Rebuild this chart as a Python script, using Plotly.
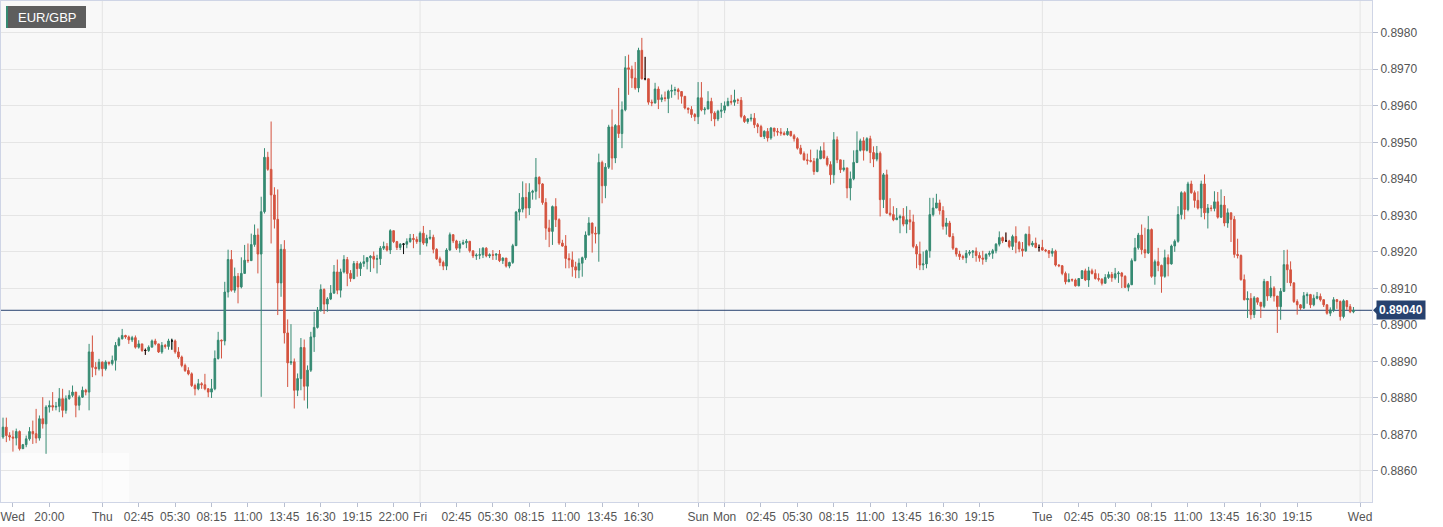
import plotly.graph_objects as go

# EUR/GBP 15 minute candles, Wed 16:15 -> Tue 23:30 (weekend gap removed)
first_open = 0.88629

wed_close = [
    0.88693, 0.88720, 0.88697, 0.88693, 0.88690, 0.88708, 0.88661, 0.88672, 0.88688, 0.88708,
    0.88702, 0.88690, 0.88743, 0.88729, 0.88775, 0.88779, 0.88775, 0.88777, 0.88798, 0.88766,
    0.88798, 0.88807, 0.88816, 0.88780, 0.88802, 0.88821, 0.88816, 0.88926, 0.88884, 0.88880,
    0.88898,
]
wed_high = [
    0.88702, 0.88746, 0.88746, 0.88706, 0.88711, 0.88716, 0.88711, 0.88674, 0.88697, 0.88720,
    0.88738, 0.88770, 0.88752, 0.88802, 0.88780, 0.88793, 0.88816, 0.88789, 0.88827, 0.88825,
    0.88807, 0.88821, 0.88834, 0.88816, 0.88807, 0.88831, 0.88825, 0.88948, 0.88971, 0.88898,
    0.88907,
]
wed_low = [
    0.88629, 0.88688, 0.88679, 0.88683, 0.88653, 0.88670, 0.88656, 0.88661, 0.88665, 0.88683,
    0.88674, 0.88676, 0.88683, 0.88716, 0.88647, 0.88760, 0.88765, 0.88766, 0.88761, 0.88747,
    0.88757, 0.88795, 0.88802, 0.88747, 0.88766, 0.88800, 0.88807, 0.88766, 0.88857, 0.88862,
    0.88875,
]

thu_close = [
    0.88880, 0.88898, 0.88894, 0.88903, 0.88944, 0.88962, 0.88971, 0.88967, 0.88959, 0.88965,
    0.88939, 0.88948, 0.88930, 0.88930, 0.88939, 0.88956, 0.88948, 0.88926, 0.88944, 0.88941,
    0.88956, 0.88956, 0.88926, 0.88912, 0.88889, 0.88875, 0.88866, 0.88834, 0.88825, 0.88839,
    0.88836, 0.88825, 0.88816, 0.88825, 0.88908, 0.88958, 0.88956, 0.89090, 0.89179, 0.89095,
    0.89133, 0.89104, 0.89141, 0.89177, 0.89176, 0.89220, 0.89246, 0.89194, 0.89310, 0.89459,
    0.89426, 0.89356, 0.89289, 0.89115, 0.89207, 0.88978, 0.88896, 0.88899, 0.88821, 0.88853,
    0.88938, 0.88832, 0.88876, 0.88967, 0.88993, 0.89040, 0.89097, 0.89057, 0.89071, 0.89087,
    0.89145, 0.89095, 0.89145, 0.89179, 0.89141, 0.89127, 0.89168, 0.89154, 0.89168, 0.89173,
    0.89184, 0.89188, 0.89180, 0.89181, 0.89210, 0.89215, 0.89205, 0.89258, 0.89228, 0.89212,
    0.89221, 0.89221, 0.89228, 0.89237, 0.89234, 0.89228,
]
thu_high = [
    0.88900, 0.88903, 0.88898, 0.88916, 0.88953, 0.88967, 0.88989, 0.88973, 0.88971, 0.88970,
    0.88971, 0.88958, 0.88946, 0.88935, 0.88944, 0.88960, 0.88962, 0.88948, 0.88953, 0.88948,
    0.88962, 0.88962, 0.88960, 0.88939, 0.88916, 0.88894, 0.88884, 0.88870, 0.88839, 0.88852,
    0.88843, 0.88866, 0.88827, 0.88852, 0.88930, 0.88981, 0.88960, 0.89118, 0.89206, 0.89205,
    0.89157, 0.89142, 0.89185, 0.89219, 0.89223, 0.89250, 0.89275, 0.89264, 0.89351, 0.89484,
    0.89474, 0.89557, 0.89377, 0.89371, 0.89221, 0.89232, 0.89015, 0.89002, 0.88908, 0.88867,
    0.88964, 0.88960, 0.88889, 0.88981, 0.89036, 0.89049, 0.89111, 0.89100, 0.89076, 0.89109,
    0.89164, 0.89179, 0.89154, 0.89191, 0.89186, 0.89150, 0.89175, 0.89175, 0.89173, 0.89191,
    0.89186, 0.89191, 0.89201, 0.89192, 0.89216, 0.89228, 0.89224, 0.89262, 0.89256, 0.89230,
    0.89224, 0.89224, 0.89237, 0.89249, 0.89249, 0.89242,
]
thu_low = [
    0.88859, 0.88875, 0.88889, 0.88889, 0.88875, 0.88941, 0.88960, 0.88962, 0.88948, 0.88953,
    0.88935, 0.88935, 0.88926, 0.88918, 0.88926, 0.88944, 0.88944, 0.88923, 0.88921, 0.88935,
    0.88932, 0.88932, 0.88921, 0.88907, 0.88884, 0.88871, 0.88862, 0.88830, 0.88807, 0.88821,
    0.88825, 0.88821, 0.88802, 0.88800, 0.88821, 0.88905, 0.88908, 0.88944, 0.89075, 0.89091,
    0.89088, 0.89059, 0.89100, 0.89141, 0.89170, 0.89176, 0.89214, 0.89141, 0.88803, 0.89305,
    0.89422, 0.89223, 0.89264, 0.89027, 0.89077, 0.88949, 0.88830, 0.88890, 0.88771, 0.88805,
    0.88821, 0.88793, 0.88771, 0.88871, 0.88926, 0.88990, 0.89036, 0.89030, 0.89036, 0.89068,
    0.89086, 0.89084, 0.89075, 0.89141, 0.89106, 0.89118, 0.89125, 0.89132, 0.89134, 0.89159,
    0.89152, 0.89145, 0.89155, 0.89141, 0.89164, 0.89205, 0.89201, 0.89194, 0.89224, 0.89205,
    0.89205, 0.89194, 0.89210, 0.89225, 0.89210, 0.89222,
]

fri_close = [
    0.89251, 0.89224, 0.89237, 0.89240, 0.89207, 0.89181, 0.89171, 0.89161, 0.89205, 0.89247,
    0.89230, 0.89210, 0.89222, 0.89225, 0.89229, 0.89203, 0.89189, 0.89191, 0.89192, 0.89210,
    0.89189, 0.89192, 0.89191, 0.89194, 0.89176, 0.89183, 0.89161, 0.89171, 0.89217, 0.89309,
    0.89317, 0.89349, 0.89320, 0.89363, 0.89366, 0.89404, 0.89386, 0.89335, 0.89265, 0.89256,
    0.89324, 0.89288, 0.89224, 0.89216, 0.89182, 0.89178, 0.89159, 0.89150, 0.89169, 0.89184,
    0.89246, 0.89279, 0.89251, 0.89249, 0.89445, 0.89381, 0.89432, 0.89542, 0.89457, 0.89546,
    0.89524, 0.89589, 0.89704, 0.89700, 0.89676, 0.89649, 0.89752, 0.89674, 0.89674, 0.89610,
    0.89608, 0.89646, 0.89617, 0.89622, 0.89620, 0.89640, 0.89642, 0.89644, 0.89639, 0.89626,
    0.89594, 0.89590, 0.89576, 0.89570,
]
fri_high = [
    0.89256, 0.89271, 0.89247, 0.89260, 0.89247, 0.89210, 0.89187, 0.89176, 0.89210, 0.89253,
    0.89248, 0.89233, 0.89230, 0.89233, 0.89235, 0.89226, 0.89201, 0.89196, 0.89210, 0.89213,
    0.89213, 0.89196, 0.89205, 0.89196, 0.89205, 0.89185, 0.89178, 0.89173, 0.89222, 0.89312,
    0.89361, 0.89393, 0.89388, 0.89388, 0.89370, 0.89457, 0.89407, 0.89388, 0.89347, 0.89288,
    0.89327, 0.89347, 0.89292, 0.89233, 0.89246, 0.89196, 0.89201, 0.89173, 0.89182, 0.89187,
    0.89256, 0.89295, 0.89280, 0.89269, 0.89469, 0.89450, 0.89443, 0.89548, 0.89590, 0.89550,
    0.89649, 0.89612, 0.89736, 0.89740, 0.89710, 0.89720, 0.89759, 0.89786, 0.89734, 0.89673,
    0.89617, 0.89663, 0.89653, 0.89631, 0.89639, 0.89644, 0.89658, 0.89652, 0.89649, 0.89640,
    0.89626, 0.89594, 0.89599, 0.89580,
]
fri_low = [
    0.89192, 0.89219, 0.89215, 0.89233, 0.89196, 0.89178, 0.89161, 0.89150, 0.89150, 0.89203,
    0.89224, 0.89205, 0.89198, 0.89219, 0.89210, 0.89198, 0.89183, 0.89178, 0.89180, 0.89183,
    0.89185, 0.89183, 0.89178, 0.89178, 0.89172, 0.89167, 0.89157, 0.89155, 0.89167, 0.89216,
    0.89286, 0.89308, 0.89292, 0.89301, 0.89343, 0.89343, 0.89347, 0.89329, 0.89233, 0.89213,
    0.89219, 0.89268, 0.89219, 0.89214, 0.89155, 0.89155, 0.89132, 0.89128, 0.89128, 0.89132,
    0.89178, 0.89246, 0.89198, 0.89223, 0.89173, 0.89333, 0.89347, 0.89427, 0.89425, 0.89443,
    0.89512, 0.89484, 0.89585, 0.89630, 0.89649, 0.89644, 0.89637, 0.89672, 0.89670, 0.89603,
    0.89599, 0.89606, 0.89591, 0.89610, 0.89612, 0.89580, 0.89622, 0.89629, 0.89617, 0.89606,
    0.89590, 0.89579, 0.89567, 0.89558,
]

sun_close = [0.89622, 0.89589, 0.89591, 0.89612, 0.89580, 0.89564, 0.89585, 0.89588]
sun_high = [0.89665, 0.89665, 0.89597, 0.89640, 0.89622, 0.89585, 0.89589, 0.89608]
sun_low = [0.89550, 0.89585, 0.89576, 0.89591, 0.89558, 0.89544, 0.89558, 0.89567]

mon_close = [
    0.89600, 0.89612, 0.89610, 0.89616, 0.89615, 0.89571, 0.89557, 0.89564, 0.89566, 0.89548,
    0.89543, 0.89516, 0.89530, 0.89512, 0.89539, 0.89530, 0.89528, 0.89525, 0.89521, 0.89530,
    0.89518, 0.89510, 0.89484, 0.89469, 0.89452, 0.89450, 0.89448, 0.89420, 0.89455, 0.89477,
    0.89457, 0.89439, 0.89411, 0.89507, 0.89452, 0.89425, 0.89430, 0.89375, 0.89400, 0.89445,
    0.89478, 0.89504, 0.89478, 0.89510, 0.89472, 0.89454, 0.89470, 0.89343, 0.89411, 0.89306,
    0.89302, 0.89288, 0.89293, 0.89297, 0.89276, 0.89288, 0.89282, 0.89215, 0.89194, 0.89164,
    0.89167, 0.89203, 0.89302, 0.89320, 0.89334, 0.89313, 0.89270, 0.89279, 0.89242, 0.89210,
    0.89194, 0.89187, 0.89184, 0.89196, 0.89199, 0.89202, 0.89190, 0.89183, 0.89180, 0.89193,
    0.89196, 0.89203, 0.89221, 0.89239, 0.89230, 0.89230, 0.89215, 0.89242, 0.89226, 0.89208,
    0.89203, 0.89248, 0.89219, 0.89224, 0.89212, 0.89212,
]
mon_high = [
    0.89612, 0.89622, 0.89630, 0.89644, 0.89620, 0.89624, 0.89575, 0.89566, 0.89578, 0.89580,
    0.89553, 0.89548, 0.89533, 0.89539, 0.89542, 0.89534, 0.89539, 0.89539, 0.89530, 0.89539,
    0.89530, 0.89523, 0.89514, 0.89493, 0.89475, 0.89469, 0.89480, 0.89457, 0.89480, 0.89489,
    0.89500, 0.89463, 0.89448, 0.89528, 0.89516, 0.89452, 0.89452, 0.89430, 0.89420, 0.89478,
    0.89530, 0.89510, 0.89514, 0.89514, 0.89518, 0.89489, 0.89490, 0.89475, 0.89416, 0.89425,
    0.89347, 0.89325, 0.89320, 0.89302, 0.89320, 0.89325, 0.89315, 0.89302, 0.89221, 0.89228,
    0.89201, 0.89206, 0.89348, 0.89348, 0.89359, 0.89343, 0.89325, 0.89293, 0.89285, 0.89251,
    0.89210, 0.89203, 0.89192, 0.89205, 0.89205, 0.89205, 0.89212, 0.89199, 0.89203, 0.89196,
    0.89203, 0.89208, 0.89224, 0.89256, 0.89242, 0.89253, 0.89233, 0.89247, 0.89270, 0.89230,
    0.89227, 0.89250, 0.89270, 0.89230, 0.89239, 0.89220,
]
mon_low = [
    0.89580, 0.89603, 0.89603, 0.89600, 0.89605, 0.89566, 0.89553, 0.89551, 0.89557, 0.89539,
    0.89525, 0.89514, 0.89509, 0.89502, 0.89507, 0.89516, 0.89518, 0.89518, 0.89519, 0.89518,
    0.89516, 0.89502, 0.89480, 0.89466, 0.89450, 0.89439, 0.89445, 0.89411, 0.89418, 0.89454,
    0.89454, 0.89434, 0.89384, 0.89388, 0.89443, 0.89416, 0.89420, 0.89347, 0.89341, 0.89396,
    0.89443, 0.89475, 0.89450, 0.89475, 0.89443, 0.89432, 0.89448, 0.89297, 0.89320, 0.89305,
    0.89297, 0.89284, 0.89288, 0.89251, 0.89270, 0.89251, 0.89260, 0.89210, 0.89155, 0.89150,
    0.89150, 0.89155, 0.89184, 0.89297, 0.89322, 0.89302, 0.89261, 0.89247, 0.89240, 0.89205,
    0.89187, 0.89178, 0.89178, 0.89169, 0.89190, 0.89183, 0.89173, 0.89173, 0.89165, 0.89172,
    0.89187, 0.89181, 0.89196, 0.89215, 0.89224, 0.89229, 0.89210, 0.89205, 0.89196, 0.89199,
    0.89187, 0.89200, 0.89215, 0.89214, 0.89210, 0.89201,
]

tue_close = [
    0.89205, 0.89203, 0.89196, 0.89202, 0.89164, 0.89162, 0.89141, 0.89118, 0.89124, 0.89123,
    0.89107, 0.89127, 0.89148, 0.89123, 0.89148, 0.89141, 0.89127, 0.89125, 0.89114, 0.89130,
    0.89138, 0.89129, 0.89140, 0.89142, 0.89133, 0.89103, 0.89110, 0.89176, 0.89211, 0.89246,
    0.89206, 0.89197, 0.89261, 0.89133, 0.89173, 0.89163, 0.89133, 0.89184, 0.89167, 0.89216,
    0.89229, 0.89302, 0.89362, 0.89316, 0.89386, 0.89362, 0.89341, 0.89320, 0.89386, 0.89307,
    0.89320, 0.89319, 0.89337, 0.89295, 0.89328, 0.89279, 0.89307, 0.89289, 0.89193, 0.89190,
    0.89124, 0.89069, 0.89072, 0.89028, 0.89074, 0.89062, 0.89051, 0.89119, 0.89079, 0.89101,
    0.89079, 0.89050, 0.89092, 0.89165, 0.89151, 0.89115, 0.89064, 0.89055, 0.89046, 0.89080,
    0.89083, 0.89055, 0.89073, 0.89078, 0.89069, 0.89055, 0.89032, 0.89041, 0.89069, 0.89064,
    0.89023, 0.89066, 0.89050, 0.89036, 0.89040,
]
tue_high = [
    0.89233, 0.89208, 0.89205, 0.89210, 0.89206, 0.89166, 0.89164, 0.89146, 0.89141, 0.89127,
    0.89127, 0.89128, 0.89150, 0.89154, 0.89159, 0.89154, 0.89152, 0.89141, 0.89128, 0.89139,
    0.89146, 0.89145, 0.89156, 0.89147, 0.89145, 0.89136, 0.89115, 0.89182, 0.89238, 0.89252,
    0.89275, 0.89266, 0.89298, 0.89264, 0.89179, 0.89211, 0.89165, 0.89206, 0.89193, 0.89220,
    0.89234, 0.89325, 0.89366, 0.89366, 0.89392, 0.89395, 0.89368, 0.89366, 0.89395, 0.89412,
    0.89331, 0.89328, 0.89366, 0.89364, 0.89371, 0.89353, 0.89319, 0.89304, 0.89298, 0.89236,
    0.89193, 0.89138, 0.89092, 0.89087, 0.89079, 0.89075, 0.89062, 0.89126, 0.89119, 0.89134,
    0.89106, 0.89074, 0.89101, 0.89205, 0.89206, 0.89174, 0.89117, 0.89070, 0.89057, 0.89090,
    0.89089, 0.89085, 0.89083, 0.89090, 0.89086, 0.89070, 0.89056, 0.89048, 0.89076, 0.89071,
    0.89067, 0.89070, 0.89068, 0.89057, 0.89049,
]
tue_low = [
    0.89203, 0.89199, 0.89183, 0.89187, 0.89160, 0.89158, 0.89136, 0.89111, 0.89118, 0.89118,
    0.89105, 0.89106, 0.89126, 0.89120, 0.89104, 0.89138, 0.89124, 0.89119, 0.89108, 0.89114,
    0.89126, 0.89118, 0.89124, 0.89115, 0.89101, 0.89101, 0.89092, 0.89109, 0.89174, 0.89206,
    0.89193, 0.89183, 0.89194, 0.89129, 0.89110, 0.89147, 0.89088, 0.89129, 0.89133, 0.89165,
    0.89200, 0.89225, 0.89289, 0.89289, 0.89311, 0.89359, 0.89321, 0.89316, 0.89295, 0.89289,
    0.89264, 0.89311, 0.89311, 0.89291, 0.89293, 0.89270, 0.89266, 0.89227, 0.89184, 0.89182,
    0.89121, 0.89067, 0.89019, 0.89015, 0.89019, 0.89055, 0.89019, 0.89046, 0.89066, 0.89074,
    0.89064, 0.88978, 0.89014, 0.89090, 0.89115, 0.89106, 0.89060, 0.89028, 0.89041, 0.89044,
    0.89058, 0.89046, 0.89051, 0.89070, 0.89064, 0.89049, 0.89028, 0.89024, 0.89035, 0.89044,
    0.89012, 0.89018, 0.89041, 0.89032, 0.89032,
]

# axis labels, placed at candle slots
tick_index = [3.9, 15, 31, 42, 53, 64, 75, 86, 97, 108, 119,
              127, 138, 149, 160, 171, 182, 193,
              211, 219, 230, 241, 252, 263, 274, 285, 296,
              315, 326, 337, 348, 359, 370, 381, 392, 411]
tick_text = ["Wed", "20:00", "Thu", "02:45", "05:30", "08:15", "11:00", "13:45", "16:30", "19:15", "22:00",
             "Fri", "02:45", "05:30", "08:15", "11:00", "13:45", "16:30",
             "Sun", "Mon", "02:45", "05:30", "08:15", "11:00", "13:45", "16:30", "19:15",
             "Tue", "02:45", "05:30", "08:15", "11:00", "13:45", "16:30", "19:15", "Wed"]

symbol = "EUR/GBP"

GREEN = "#358a72"
RED = "#d4533f"
NAVY = "#27426f"
FONT = "Liberation Sans, Arial, sans-serif"

close = wed_close + thu_close + fri_close + sun_close + mon_close + tue_close
high = wed_high + thu_high + fri_high + sun_high + mon_high + tue_high
low = wed_low + thu_low + fri_low + sun_low + mon_low + tue_low
opens = [first_open] + close[:-1]
high = [max(h, o, c) for h, o, c in zip(high, opens, close)]
low = [min(l, o, c) for l, o, c in zip(low, opens, close)]
x = list(range(len(close)))

doji = [i for i in x if opens[i] == close[i]]

fig = go.Figure()
fig.add_trace(
    go.Candlestick(
        x=x, open=opens, high=high, low=low, close=close,
        increasing=dict(line=dict(color=GREEN, width=1), fillcolor=GREEN),
        decreasing=dict(line=dict(color=RED, width=1), fillcolor=RED),
        whiskerwidth=0,
        hoverinfo="skip",
    )
)
fig.add_trace(
    go.Candlestick(
        x=doji,
        open=[opens[i] for i in doji], high=[high[i] for i in doji],
        low=[low[i] for i in doji], close=[close[i] for i in doji],
        increasing=dict(line=dict(color="#111111", width=1), fillcolor="#111111"),
        decreasing=dict(line=dict(color="#111111", width=1), fillcolor="#111111"),
        whiskerwidth=0,
        hoverinfo="skip",
    )
)

# day separators
for i, t in zip(tick_index[1:], tick_text[1:]):
    if ":" not in t:
        fig.add_vline(x=i, line=dict(color="#e4e4e4", width=1), layer="below")

# faint white patch in the lower left corner (logo spot)
fig.add_shape(
    type="rect", xref="paper", yref="paper", xsizemode="pixel", ysizemode="pixel",
    xanchor=0, yanchor=0, x0=0, x1=128, y0=0, y1=49,
    fillcolor="white", opacity=0.55, line=dict(width=0), layer="below",
)

# last price line + label
last = close[-1]
fig.add_hline(y=last, line=dict(color=NAVY, width=1), layer="below")
fig.add_annotation(
    x=1, xref="paper", y=last, yref="y", xanchor="left", yanchor="middle",
    xshift=4, text="<b>%.5f</b>" % last, showarrow=False,
    font=dict(family=FONT, size=12, color="white"),
    bgcolor=NAVY, borderpad=2,
)
fig.add_shape(
    type="path", xref="paper", yref="y", xsizemode="pixel", ysizemode="pixel",
    xanchor=1, yanchor=last, path="M 1,0 L 5,4 L 5,-4 Z",
    fillcolor=NAVY, line=dict(width=0), layer="above",
)

# symbol tag
fig.add_shape(
    type="rect", xref="paper", yref="paper", xsizemode="pixel", ysizemode="pixel",
    xanchor=0, yanchor=1, x0=5, x1=85, y0=-5, y1=-27,
    fillcolor="#5e5e5e", line=dict(width=0), layer="above",
)
fig.add_shape(
    type="rect", xref="paper", yref="paper", xsizemode="pixel", ysizemode="pixel",
    xanchor=0, yanchor=1, x0=5, x1=7, y0=-5, y1=-27,
    fillcolor=GREEN, line=dict(width=0), layer="above",
)
fig.add_annotation(
    x=0, xref="paper", y=1, yref="paper", xanchor="center", yanchor="middle",
    xshift=46, yshift=-16, text=symbol, showarrow=False,
    font=dict(family=FONT, size=13, color="white"),
)

fig.update_layout(
    width=1443, height=527,
    margin=dict(l=1, r=71, t=1, b=25),
    paper_bgcolor="white", plot_bgcolor="#f8f8f8",
    showlegend=False,
    font=dict(family=FONT, size=12, color="#555555"),
    boxgap=0.3,
    xaxis=dict(
        range=[0.39, 414.6], rangeslider=dict(visible=False),
        tickmode="array", tickvals=tick_index, ticktext=tick_text,
        showgrid=False, zeroline=False,
        ticks="outside", ticklen=4, tickcolor="#b8bfd0",
        showline=True, linecolor="#cfd5e6", mirror=True,
        tickfont=dict(family=FONT, size=12, color="#555555"),
    ),
    yaxis=dict(
        side="right", range=[0.88515, 0.89887],
        dtick=0.001, tick0=0.886, tickformat=".4f",
        showgrid=True, gridcolor="#e5e5e5", zeroline=False,
        ticks="outside", ticklen=5, tickcolor="#b8bfd0",
        showline=True, linecolor="#cfd5e6", mirror=True,
        tickfont=dict(family=FONT, size=12, color="#555555"),
    ),
)

# page body has a default margin; drop it so the chart sits at the window origin
fig.write_html(
    "out.html",
    config={"displayModeBar": False},
    post_script="document.body.style.margin = '0px';",
)
